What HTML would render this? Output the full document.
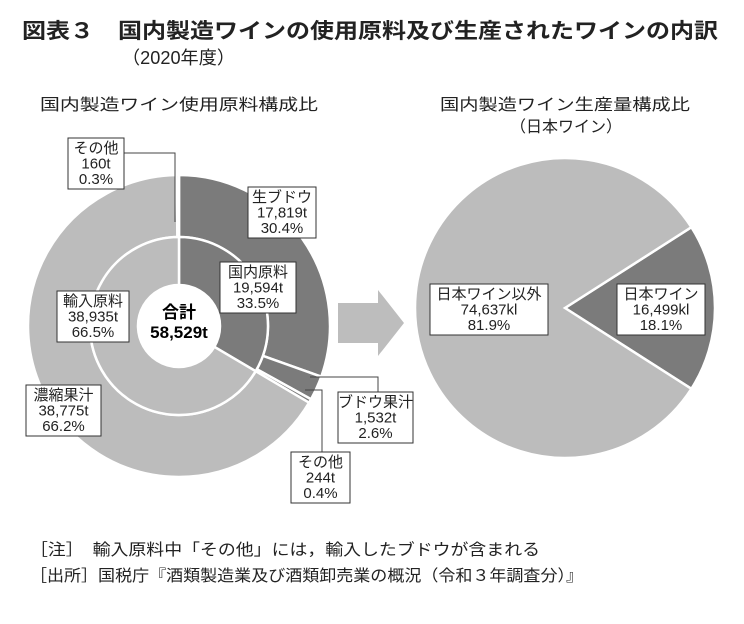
<!DOCTYPE html>
<html><head><meta charset="utf-8">
<style>
body{margin:0;background:#fff;}
svg{display:block;font-family:"Liberation Sans","Noto Sans CJK JP",sans-serif;}
</style></head><body>
<svg id="c" width="744" height="624" viewBox="0 0 744 624">
<text x="22" y="38" font-size="21" font-weight="bold" fill="#222" textLength="696" lengthAdjust="spacingAndGlyphs">図表３　国内製造ワインの使用原料及び生産されたワインの内訳</text>
<text x="122" y="64" font-size="18" fill="#222" textLength="113" lengthAdjust="spacingAndGlyphs">（2020年度）</text>
<text x="40" y="110" font-size="16" fill="#222" textLength="278" lengthAdjust="spacingAndGlyphs">国内製造ワイン使用原料構成比</text>
<text x="440" y="110" font-size="16" fill="#222" textLength="250" lengthAdjust="spacingAndGlyphs">国内製造ワイン生産量構成比</text>
<text x="566" y="132" font-size="16" fill="#222" text-anchor="middle">（日本ワイン）</text>
<g id="left"></g><g id="right"></g>
<polygon points="338,303 378,303 378,290 404,323 378,356 378,343 338,343" fill="#bdbdbd"/>
<g id="labels"></g>
<text x="30" y="555" font-size="16" fill="#222" textLength="510" lengthAdjust="spacingAndGlyphs">［注］　輸入原料中「その他」には，輸入したブドウが含まれる</text>
<text x="30" y="581" font-size="16" fill="#222" textLength="553" lengthAdjust="spacingAndGlyphs">［出所］国税庁『酒類製造業及び酒類卸売業の概況（令和３年調査分）』</text>
</svg>
<script>
const innerCats=["国内原料","輸入原料"];
const innerVals=[19594,38935];
const outerCats=["生ブドウ","ブドウ果汁","その他(国内)","濃縮果汁","その他(輸入)"];
const outerVals=[17819,1532,244,38775,160];
const rightCats=["日本ワイン","日本ワイン以外"];
const rightVals=[16499,74637];
const DARK="#7b7b7b",LIGHT="#bcbcbc";
const NS="http://www.w3.org/2000/svg";
function pt(cx,cy,r,a){return [cx+r*Math.sin(a),cy-r*Math.cos(a)];}
function wedge(cx,cy,r0,r1,a0,a1){
  const lg=(a1-a0)>Math.PI?1:0;
  const p1=pt(cx,cy,r1,a0),p2=pt(cx,cy,r1,a1);
  if(r0===0)return `M${cx},${cy}L${p1}A${r1},${r1} 0 ${lg} 1 ${p2}Z`;
  const p3=pt(cx,cy,r0,a1),p4=pt(cx,cy,r0,a0);
  return `M${p1}A${r1},${r1} 0 ${lg} 1 ${p2}L${p3}A${r0},${r0} 0 ${lg} 0 ${p4}Z`;
}
function ring(g,vals,cx,cy,r0,r1,start,colors,names){
  const tot=vals.reduce((a,b)=>a+b,0);let a=start;
  vals.forEach((v,i)=>{
    const a1=a+v/tot*2*Math.PI;
    const p=document.createElementNS(NS,"path");
    p.setAttribute("d",wedge(cx,cy,r0,r1,a,a1));
    p.setAttribute("fill",colors[i]);p.setAttribute("stroke","#fff");p.setAttribute("stroke-width","2.5");
    
    
    g.appendChild(p);a=a1;
  });
}
const L=document.getElementById("left");
ring(L,outerVals,179,326,89,151,0,[DARK,DARK,DARK,LIGHT,LIGHT],outerCats.map((c,i)=>"outer-slice-"+i));
ring(L,innerVals,179,326,41,89,0,[DARK,LIGHT],innerCats.map((c,i)=>"inner-slice-"+i));
const hole=document.createElementNS(NS,"circle");
hole.setAttribute("cx",179);hole.setAttribute("cy",326);hole.setAttribute("r",41);hole.setAttribute("fill","#fff");


L.appendChild(hole);
const R=document.getElementById("right");
const rt=rightVals[0]/(rightVals[0]+rightVals[1])*2*Math.PI;
ring(R,rightVals,565,308,0,150,Math.PI/2-rt/2,[DARK,LIGHT],["slice-nihon-wine","slice-other-wine"]);
const G=document.getElementById("labels");
function line(pts){const p=document.createElementNS(NS,"polyline");p.setAttribute("points",pts);p.setAttribute("fill","none");p.setAttribute("stroke","#444");p.setAttribute("stroke-width","1");


G.appendChild(p);}
line("124,153 175,153 175,222");
line("310,377 378,377 378,392");
line("305,390 322,390 322,452");
function box(x,y,w,h,lines,name,fs){
  const r=document.createElementNS(NS,"rect");
  r.setAttribute("x",x);r.setAttribute("y",y);r.setAttribute("width",w);r.setAttribute("height",h);
  r.setAttribute("fill","#fff");r.setAttribute("stroke","#333");r.setAttribute("stroke-width","1");
  
  
  G.appendChild(r);
  lines.forEach((t,i)=>{
    const tx=document.createElementNS(NS,"text");
    tx.setAttribute("x",x+w/2);tx.setAttribute("y",y+15+i*15.5);tx.setAttribute("text-anchor","middle");
    tx.setAttribute("font-size",fs||15);tx.setAttribute("fill","#222");tx.textContent=t;
    
    
    G.appendChild(tx);
  });
}
box(68,138,56,51,["その他","160t","0.3%"],"label-other-import");
box(248,187,68,51,["生ブドウ","17,819t","30.4%"],"label-raw-grape");
box(220,262,76,51,["国内原料","19,594t","33.5%"],"label-domestic");
box(57,291,72,51,["輸入原料","38,935t","66.5%"],"label-import");
box(26,385,75,51,["濃縮果汁","38,775t","66.2%"],"label-concentrate");
box(338,392,75,51,["ブドウ果汁","1,532t","2.6%"],"label-grape-juice");
box(291,452,59,51,["その他","244t","0.4%"],"label-other-domestic");
box(430,284,118,51,["日本ワイン以外","74,637kl","81.9%"],"label-other-wine");
box(617,284,88,51,["日本ワイン","16,499kl","18.1%"],"label-nihon-wine");
const t1=document.createElementNS(NS,"text");t1.setAttribute("x",179);t1.setAttribute("y",318);t1.setAttribute("text-anchor","middle");t1.setAttribute("font-size","17");t1.setAttribute("font-weight","bold");t1.textContent="合計";


G.appendChild(t1);
const t2=document.createElementNS(NS,"text");t2.setAttribute("x",179);t2.setAttribute("y",338);t2.setAttribute("text-anchor","middle");t2.setAttribute("font-size","17");t2.setAttribute("font-weight","bold");t2.textContent="58,529t";


G.appendChild(t2);
</script>
</body></html>
